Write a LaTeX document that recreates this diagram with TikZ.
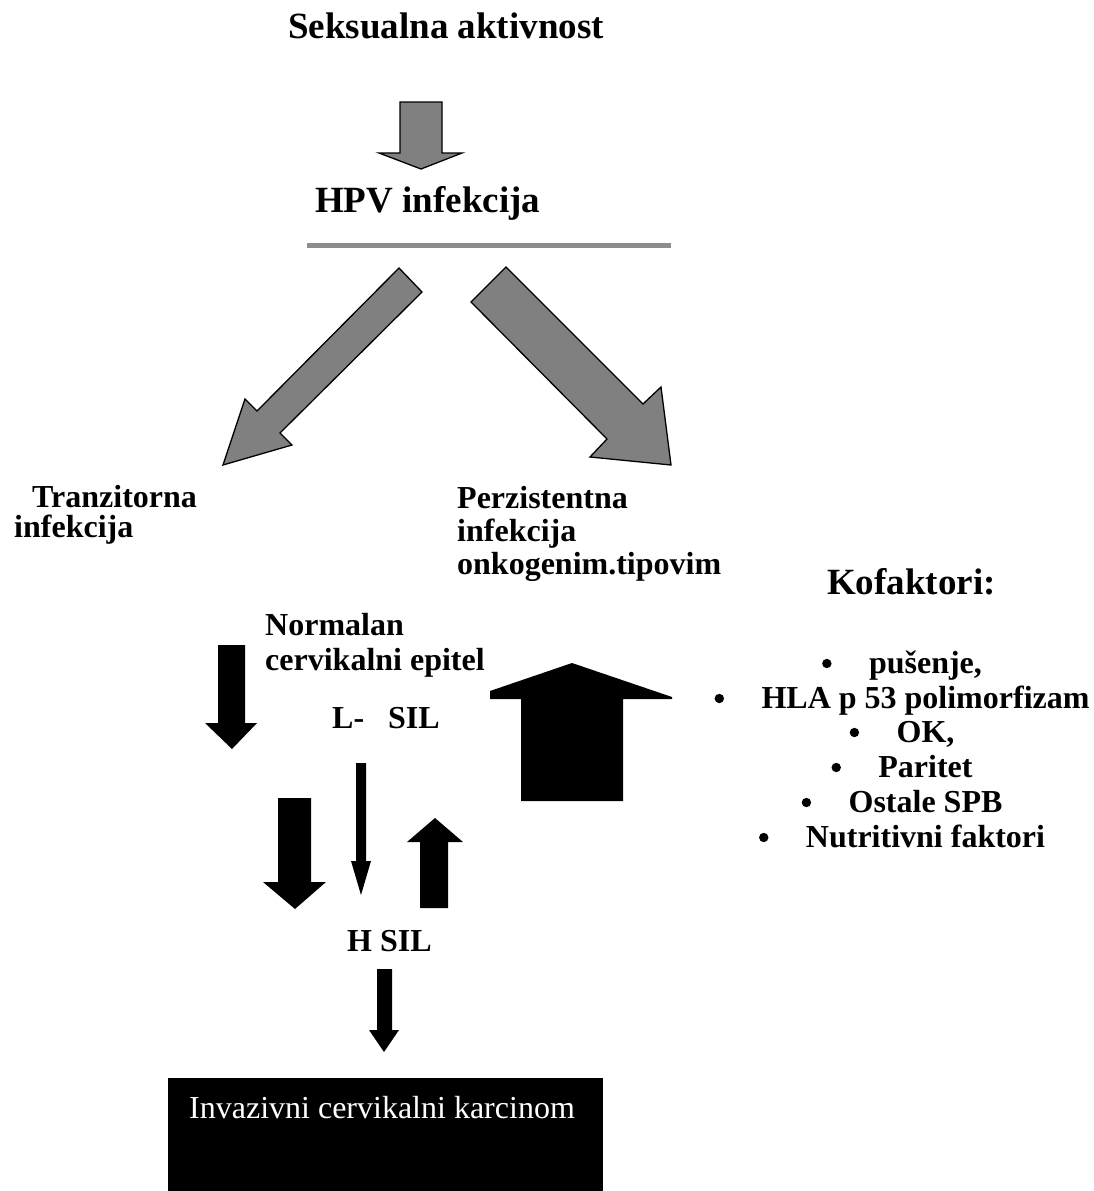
\documentclass[tikz,border=0pt]{standalone}
\usepackage{fontspec}
\usetikzlibrary{calc}
\setmainfont{Liberation Serif}
\definecolor{arrgray}{HTML}{808080}
\definecolor{linegray}{HTML}{8C8C8C}
\begin{document}
\begin{tikzpicture}[x=1pt,y=-1pt,
  txt/.style={inner sep=0pt, anchor=base west, font=\fontsize{32}{34}\selectfont\bfseries},
  ttl/.style={inner sep=0pt, anchor=base west, font=\fontsize{37}{40}\selectfont\bfseries},
  bul/.style={inner sep=0pt, anchor=base, font=\fontsize{32}{34}\selectfont\bfseries},
  dot/.style={fill=black},
  grayarrow/.style={fill=arrgray, draw=black, line width=1.3pt, line join=miter},
  blackarrow/.style={fill=black}]
\useasboundingbox (0,0) rectangle (1093,1191);

% titles
\node[ttl] (sek) at (288,38) {Seksualna aktivnost};
\node[ttl] (hpv) at (315,212) {HPV infekcija};
\coordinate (hl1) at (307,245.5);
\coordinate (hl2) at (671,245.5);
\draw[draw=linegray, line width=5pt] (hl1) -- (hl2);

% gray arrows
\draw[grayarrow] (400,102) -- (442,102) -- (442,153) -- (462,153) -- (421,169) -- (379,153) -- (400,153) -- cycle;
\draw[grayarrow] (399,268) -- (422,292) -- (280,433) -- (292,445) -- (223,465) -- (245,399) -- (257,411) -- cycle;
\draw[grayarrow] (506,267) -- (471,302) -- (607,439) -- (590,457) -- (671,465) -- (661,387) -- (643,404) -- cycle;

% labels
\node[txt] (tr1) at (32,507) {Tranzitorna};
\node[txt] (tr2) at (14,537) {infekcija};
\node[txt] (pe1) at (457,508) {Perzistentna};
\node[txt] (pe2) at (457,541) {infekcija};
\node[txt] (pe3) at (457,574) {onkogenim.tipovim};
\node[ttl] (kof) at (827,594) {Kofaktori:};

\node[txt] (no1) at (265,635) {Normalan};
\node[txt] (no2) at (265,670) {cervikalni epitel};
\node[txt] (lsil) at (332,728) {L-\hspace{24pt}SIL};
\node[txt] (hsil) at (347,951) {H SIL};

% bullet list
\node[bul] (b1) at (902,673) {\hspace{47pt}pušenje,};
\node[bul] (b2) at (902,708) {\hspace{47pt}HLA p 53 polimorfizam};
\node[bul] (b3) at (902,742) {\hspace{47pt}OK,};
\node[bul] (b4) at (902,777) {\hspace{47pt}Paritet};
\node[bul] (b5) at (902,812) {\hspace{47pt}Ostale SPB};
\node[bul] (b6) at (902,847) {\hspace{47pt}Nutritivni faktori};
\foreach \b in {b1,b2,b3,b4,b5,b6}
  \fill[dot] ($(\b.base west)+(5,-9.5)$) circle (4.7pt);

% black arrows
\fill[blackarrow] (218,645) -- (245,645) -- (245,723) -- (257,723) -- (232,749) -- (205,723) -- (218,723) -- cycle;
\fill[blackarrow] (521,801) -- (521,699) -- (490,699) -- (490,691) -- (572,663) -- (672,697) -- (672,699) -- (623,699) -- (623,801) -- cycle;
\fill[blackarrow] (356,763) -- (366,763) -- (366,861) -- (371,861) -- (361,895) -- (351,861) -- (356,861) -- cycle;
\fill[blackarrow] (278,798) -- (311,798) -- (311,882) -- (326,882) -- (295,909) -- (263,882) -- (278,882) -- cycle;
\fill[blackarrow] (420,908) -- (420,842) -- (407,842) -- (435,818) -- (463,842) -- (448,842) -- (448,908) -- cycle;
\fill[blackarrow] (377,969) -- (392,969) -- (392,1030) -- (399,1030) -- (384,1052) -- (369,1030) -- (377,1030) -- cycle;

% bottom box
\node[fill=black, inner sep=0pt, minimum width=435pt, minimum height=113pt, anchor=north west] (box) at (168,1078) {};
\node[inner sep=0pt, anchor=base west, text=white, font=\fontsize{32}{34}\selectfont] (boxtxt) at (189,1118) {Invazivni cervikalni karcinom};
\end{tikzpicture}
\end{document}
